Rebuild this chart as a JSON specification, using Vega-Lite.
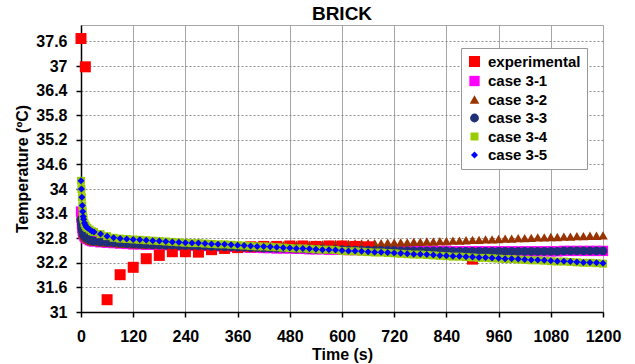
{
  "$schema": "https://vega.github.io/schema/vega-lite/v6.json",
  "width": 522,
  "height": 287,
  "autosize": "none",
  "padding": {"left": 81, "top": 25, "right": 32, "bottom": 52},
  "background": "white",
  "title": {"text": "BRICK", "fontSize": 19, "fontWeight": "bold", "font": "Liberation Sans", "color": "#000", "anchor": "middle", "offset": 1},
  "config": {
    "view": {"stroke": "#a6a6a6"},
    "axis": {"labelFont": "Liberation Sans", "labelFontSize": 16, "labelFontWeight": "bold", "labelColor": "#000", "titleFont": "Liberation Sans", "titleFontSize": 16, "titleFontWeight": "bold", "titleColor": "#000", "domainColor": "#000", "domainWidth": 1.5, "tickColor": "#000", "tickSize": 5, "tickWidth": 1.5, "gridOpacity": 1, "grid": true, "labelOverlap": false, "labelFlush": false},
    "axisX": {"labelPadding": 11, "titlePadding": 2, "labelAngle": 0, "gridColor": "#a6a6a6", "gridWidth": 1},
    "axisY": {"labelPadding": 9, "titlePadding": 5, "gridDash": [2, 2], "gridColor": "#8c8c8c", "gridWidth": 1},
    "legend": {"padding": 6, "fillColor": "#ffffff", "strokeColor": "#999999", "labelFont": "Liberation Sans", "labelFontSize": 15, "labelFontWeight": "bold", "labelColor": "#000", "symbolSize": 64, "rowPadding": 2.5, "labelOffset": 6, "symbolOpacity": 1}
  },
  "datasets": {
    "exp": [
      {"s": "experimental", "t": 0, "T": 37.67},
      {"s": "experimental", "t": 10, "T": 36.98},
      {"s": "experimental", "t": 60, "T": 31.3},
      {"s": "experimental", "t": 90, "T": 31.91},
      {"s": "experimental", "t": 120, "T": 32.09},
      {"s": "experimental", "t": 150, "T": 32.3},
      {"s": "experimental", "t": 180, "T": 32.38},
      {"s": "experimental", "t": 210, "T": 32.47},
      {"s": "experimental", "t": 240, "T": 32.47},
      {"s": "experimental", "t": 270, "T": 32.46},
      {"s": "experimental", "t": 300, "T": 32.52},
      {"s": "experimental", "t": 330, "T": 32.55},
      {"s": "experimental", "t": 360, "T": 32.57},
      {"s": "experimental", "t": 390, "T": 32.59},
      {"s": "experimental", "t": 420, "T": 32.6},
      {"s": "experimental", "t": 450, "T": 32.6},
      {"s": "experimental", "t": 480, "T": 32.61},
      {"s": "experimental", "t": 510, "T": 32.61},
      {"s": "experimental", "t": 540, "T": 32.6},
      {"s": "experimental", "t": 570, "T": 32.61},
      {"s": "experimental", "t": 600, "T": 32.61},
      {"s": "experimental", "t": 630, "T": 32.6},
      {"s": "experimental", "t": 660, "T": 32.59},
      {"s": "experimental", "t": 900, "T": 32.29}
    ],
    "sim": [
      {"t": 0, "case 3-1": 33.45, "case 3-2": 33.35, "case 3-3": 33.25, "case 3-4": 34.2, "case 3-5": 34.2},
      {"t": 1, "case 3-1": 33.3, "case 3-2": 33.22, "case 3-3": 33.15, "case 3-4": 34.0, "case 3-5": 34.0},
      {"t": 2, "case 3-1": 33.15, "case 3-2": 33.1, "case 3-3": 33.07, "case 3-4": 33.8, "case 3-5": 33.8},
      {"t": 3, "case 3-1": 33.05, "case 3-2": 33.02, "case 3-3": 33.0, "case 3-4": 33.6, "case 3-5": 33.6},
      {"t": 4, "case 3-1": 32.98, "case 3-2": 32.96, "case 3-3": 32.95, "case 3-4": 33.45, "case 3-5": 33.45},
      {"t": 5, "case 3-1": 32.93, "case 3-2": 32.92, "case 3-3": 32.91, "case 3-4": 33.33, "case 3-5": 33.33},
      {"t": 6, "case 3-1": 32.9, "case 3-2": 32.89, "case 3-3": 32.88, "case 3-4": 33.26, "case 3-5": 33.26},
      {"t": 8, "case 3-1": 32.85, "case 3-2": 32.85, "case 3-3": 32.85, "case 3-4": 33.17, "case 3-5": 33.17},
      {"t": 10, "case 3-1": 32.82, "case 3-2": 32.82, "case 3-3": 32.83, "case 3-4": 33.12, "case 3-5": 33.12},
      {"t": 12, "case 3-1": 32.8, "case 3-2": 32.8, "case 3-3": 32.81, "case 3-4": 33.08, "case 3-5": 33.08},
      {"t": 15, "case 3-1": 32.78, "case 3-2": 32.78, "case 3-3": 32.79, "case 3-4": 33.05, "case 3-5": 33.05},
      {"t": 20, "case 3-1": 32.75, "case 3-2": 32.75, "case 3-3": 32.76, "case 3-4": 33.01, "case 3-5": 33.01},
      {"t": 25, "case 3-1": 32.73, "case 3-2": 32.73, "case 3-3": 32.74, "case 3-4": 32.97, "case 3-5": 32.97},
      {"t": 30, "case 3-1": 32.72, "case 3-2": 32.72, "case 3-3": 32.73, "case 3-4": 32.95, "case 3-5": 32.95},
      {"t": 45, "case 3-1": 32.7, "case 3-2": 32.7, "case 3-3": 32.71, "case 3-4": 32.9, "case 3-5": 32.9},
      {"t": 60, "case 3-1": 32.69, "case 3-2": 32.69, "case 3-3": 32.7, "case 3-4": 32.85, "case 3-5": 32.85},
      {"t": 75, "case 3-1": 32.68, "case 3-2": 32.68, "case 3-3": 32.69, "case 3-4": 32.81, "case 3-5": 32.81},
      {"t": 90, "case 3-1": 32.67, "case 3-2": 32.67, "case 3-3": 32.68, "case 3-4": 32.79, "case 3-5": 32.79},
      {"t": 105, "case 3-1": 32.66, "case 3-2": 32.66, "case 3-3": 32.67, "case 3-4": 32.78, "case 3-5": 32.78},
      {"t": 120, "case 3-1": 32.65, "case 3-2": 32.65, "case 3-3": 32.66, "case 3-4": 32.77, "case 3-5": 32.77},
      {"t": 135, "case 3-1": 32.65, "case 3-2": 32.65, "case 3-3": 32.65, "case 3-4": 32.76, "case 3-5": 32.76},
      {"t": 150, "case 3-1": 32.64, "case 3-2": 32.64, "case 3-3": 32.65, "case 3-4": 32.75, "case 3-5": 32.75},
      {"t": 165, "case 3-1": 32.64, "case 3-2": 32.64, "case 3-3": 32.64, "case 3-4": 32.74, "case 3-5": 32.74},
      {"t": 180, "case 3-1": 32.63, "case 3-2": 32.63, "case 3-3": 32.64, "case 3-4": 32.73, "case 3-5": 32.73},
      {"t": 195, "case 3-1": 32.63, "case 3-2": 32.63, "case 3-3": 32.63, "case 3-4": 32.72, "case 3-5": 32.72},
      {"t": 210, "case 3-1": 32.63, "case 3-2": 32.62, "case 3-3": 32.63, "case 3-4": 32.71, "case 3-5": 32.71},
      {"t": 225, "case 3-1": 32.62, "case 3-2": 32.62, "case 3-3": 32.62, "case 3-4": 32.7, "case 3-5": 32.7},
      {"t": 240, "case 3-1": 32.62, "case 3-2": 32.61, "case 3-3": 32.62, "case 3-4": 32.69, "case 3-5": 32.69},
      {"t": 255, "case 3-1": 32.62, "case 3-2": 32.61, "case 3-3": 32.62, "case 3-4": 32.68, "case 3-5": 32.68},
      {"t": 270, "case 3-1": 32.61, "case 3-2": 32.61, "case 3-3": 32.61, "case 3-4": 32.68, "case 3-5": 32.68},
      {"t": 285, "case 3-1": 32.61, "case 3-2": 32.61, "case 3-3": 32.61, "case 3-4": 32.67, "case 3-5": 32.67},
      {"t": 300, "case 3-1": 32.6, "case 3-2": 32.61, "case 3-3": 32.6, "case 3-4": 32.66, "case 3-5": 32.66},
      {"t": 315, "case 3-1": 32.6, "case 3-2": 32.61, "case 3-3": 32.6, "case 3-4": 32.65, "case 3-5": 32.65},
      {"t": 330, "case 3-1": 32.59, "case 3-2": 32.61, "case 3-3": 32.59, "case 3-4": 32.65, "case 3-5": 32.65},
      {"t": 345, "case 3-1": 32.59, "case 3-2": 32.61, "case 3-3": 32.59, "case 3-4": 32.64, "case 3-5": 32.64},
      {"t": 360, "case 3-1": 32.58, "case 3-2": 32.61, "case 3-3": 32.58, "case 3-4": 32.63, "case 3-5": 32.63},
      {"t": 375, "case 3-1": 32.58, "case 3-2": 32.61, "case 3-3": 32.58, "case 3-4": 32.62, "case 3-5": 32.62},
      {"t": 390, "case 3-1": 32.57, "case 3-2": 32.62, "case 3-3": 32.57, "case 3-4": 32.61, "case 3-5": 32.61},
      {"t": 405, "case 3-1": 32.57, "case 3-2": 32.62, "case 3-3": 32.57, "case 3-4": 32.6, "case 3-5": 32.6},
      {"t": 420, "case 3-1": 32.56, "case 3-2": 32.62, "case 3-3": 32.56, "case 3-4": 32.6, "case 3-5": 32.6},
      {"t": 435, "case 3-1": 32.56, "case 3-2": 32.62, "case 3-3": 32.56, "case 3-4": 32.59, "case 3-5": 32.59},
      {"t": 450, "case 3-1": 32.55, "case 3-2": 32.63, "case 3-3": 32.55, "case 3-4": 32.58, "case 3-5": 32.58},
      {"t": 465, "case 3-1": 32.55, "case 3-2": 32.63, "case 3-3": 32.55, "case 3-4": 32.57, "case 3-5": 32.57},
      {"t": 480, "case 3-1": 32.55, "case 3-2": 32.63, "case 3-3": 32.55, "case 3-4": 32.56, "case 3-5": 32.56},
      {"t": 495, "case 3-1": 32.54, "case 3-2": 32.64, "case 3-3": 32.54, "case 3-4": 32.55, "case 3-5": 32.55},
      {"t": 510, "case 3-1": 32.54, "case 3-2": 32.64, "case 3-3": 32.54, "case 3-4": 32.55, "case 3-5": 32.55},
      {"t": 525, "case 3-1": 32.53, "case 3-2": 32.64, "case 3-3": 32.53, "case 3-4": 32.54, "case 3-5": 32.54},
      {"t": 540, "case 3-1": 32.53, "case 3-2": 32.65, "case 3-3": 32.53, "case 3-4": 32.53, "case 3-5": 32.53},
      {"t": 555, "case 3-1": 32.53, "case 3-2": 32.65, "case 3-3": 32.53, "case 3-4": 32.52, "case 3-5": 32.52},
      {"t": 570, "case 3-1": 32.52, "case 3-2": 32.65, "case 3-3": 32.52, "case 3-4": 32.52, "case 3-5": 32.52},
      {"t": 585, "case 3-1": 32.52, "case 3-2": 32.66, "case 3-3": 32.52, "case 3-4": 32.51, "case 3-5": 32.51},
      {"t": 600, "case 3-1": 32.52, "case 3-2": 32.66, "case 3-3": 32.52, "case 3-4": 32.49, "case 3-5": 32.5},
      {"t": 615, "case 3-1": 32.51, "case 3-2": 32.66, "case 3-3": 32.51, "case 3-4": 32.48, "case 3-5": 32.49},
      {"t": 630, "case 3-1": 32.51, "case 3-2": 32.67, "case 3-3": 32.51, "case 3-4": 32.48, "case 3-5": 32.49},
      {"t": 645, "case 3-1": 32.51, "case 3-2": 32.67, "case 3-3": 32.51, "case 3-4": 32.47, "case 3-5": 32.48},
      {"t": 660, "case 3-1": 32.51, "case 3-2": 32.68, "case 3-3": 32.51, "case 3-4": 32.46, "case 3-5": 32.47},
      {"t": 675, "case 3-1": 32.5, "case 3-2": 32.68, "case 3-3": 32.5, "case 3-4": 32.45, "case 3-5": 32.46},
      {"t": 690, "case 3-1": 32.5, "case 3-2": 32.68, "case 3-3": 32.5, "case 3-4": 32.45, "case 3-5": 32.46},
      {"t": 705, "case 3-1": 32.5, "case 3-2": 32.69, "case 3-3": 32.5, "case 3-4": 32.44, "case 3-5": 32.45},
      {"t": 720, "case 3-1": 32.5, "case 3-2": 32.69, "case 3-3": 32.5, "case 3-4": 32.43, "case 3-5": 32.44},
      {"t": 735, "case 3-1": 32.49, "case 3-2": 32.7, "case 3-3": 32.49, "case 3-4": 32.42, "case 3-5": 32.43},
      {"t": 750, "case 3-1": 32.49, "case 3-2": 32.7, "case 3-3": 32.49, "case 3-4": 32.41, "case 3-5": 32.42},
      {"t": 765, "case 3-1": 32.49, "case 3-2": 32.71, "case 3-3": 32.49, "case 3-4": 32.4, "case 3-5": 32.41},
      {"t": 780, "case 3-1": 32.49, "case 3-2": 32.71, "case 3-3": 32.49, "case 3-4": 32.4, "case 3-5": 32.41},
      {"t": 795, "case 3-1": 32.49, "case 3-2": 32.72, "case 3-3": 32.49, "case 3-4": 32.39, "case 3-5": 32.4},
      {"t": 810, "case 3-1": 32.49, "case 3-2": 32.72, "case 3-3": 32.49, "case 3-4": 32.38, "case 3-5": 32.39},
      {"t": 825, "case 3-1": 32.49, "case 3-2": 32.73, "case 3-3": 32.49, "case 3-4": 32.37, "case 3-5": 32.38},
      {"t": 840, "case 3-1": 32.49, "case 3-2": 32.73, "case 3-3": 32.49, "case 3-4": 32.36, "case 3-5": 32.37},
      {"t": 855, "case 3-1": 32.48, "case 3-2": 32.74, "case 3-3": 32.48, "case 3-4": 32.35, "case 3-5": 32.36},
      {"t": 870, "case 3-1": 32.48, "case 3-2": 32.74, "case 3-3": 32.48, "case 3-4": 32.35, "case 3-5": 32.36},
      {"t": 885, "case 3-1": 32.48, "case 3-2": 32.75, "case 3-3": 32.48, "case 3-4": 32.34, "case 3-5": 32.35},
      {"t": 900, "case 3-1": 32.48, "case 3-2": 32.76, "case 3-3": 32.48, "case 3-4": 32.33, "case 3-5": 32.34},
      {"t": 915, "case 3-1": 32.48, "case 3-2": 32.76, "case 3-3": 32.48, "case 3-4": 32.32, "case 3-5": 32.33},
      {"t": 930, "case 3-1": 32.48, "case 3-2": 32.77, "case 3-3": 32.48, "case 3-4": 32.32, "case 3-5": 32.33},
      {"t": 945, "case 3-1": 32.48, "case 3-2": 32.77, "case 3-3": 32.48, "case 3-4": 32.31, "case 3-5": 32.32},
      {"t": 960, "case 3-1": 32.48, "case 3-2": 32.78, "case 3-3": 32.48, "case 3-4": 32.3, "case 3-5": 32.31},
      {"t": 975, "case 3-1": 32.48, "case 3-2": 32.79, "case 3-3": 32.48, "case 3-4": 32.29, "case 3-5": 32.3},
      {"t": 990, "case 3-1": 32.48, "case 3-2": 32.79, "case 3-3": 32.48, "case 3-4": 32.29, "case 3-5": 32.3},
      {"t": 1005, "case 3-1": 32.48, "case 3-2": 32.8, "case 3-3": 32.48, "case 3-4": 32.28, "case 3-5": 32.29},
      {"t": 1020, "case 3-1": 32.48, "case 3-2": 32.8, "case 3-3": 32.48, "case 3-4": 32.27, "case 3-5": 32.28},
      {"t": 1035, "case 3-1": 32.48, "case 3-2": 32.81, "case 3-3": 32.48, "case 3-4": 32.26, "case 3-5": 32.27},
      {"t": 1050, "case 3-1": 32.48, "case 3-2": 32.82, "case 3-3": 32.48, "case 3-4": 32.26, "case 3-5": 32.27},
      {"t": 1065, "case 3-1": 32.48, "case 3-2": 32.82, "case 3-3": 32.48, "case 3-4": 32.25, "case 3-5": 32.26},
      {"t": 1080, "case 3-1": 32.48, "case 3-2": 32.83, "case 3-3": 32.48, "case 3-4": 32.24, "case 3-5": 32.25},
      {"t": 1095, "case 3-1": 32.48, "case 3-2": 32.83, "case 3-3": 32.48, "case 3-4": 32.23, "case 3-5": 32.24},
      {"t": 1110, "case 3-1": 32.49, "case 3-2": 32.84, "case 3-3": 32.49, "case 3-4": 32.23, "case 3-5": 32.24},
      {"t": 1125, "case 3-1": 32.49, "case 3-2": 32.84, "case 3-3": 32.49, "case 3-4": 32.22, "case 3-5": 32.23},
      {"t": 1140, "case 3-1": 32.49, "case 3-2": 32.85, "case 3-3": 32.49, "case 3-4": 32.21, "case 3-5": 32.22},
      {"t": 1155, "case 3-1": 32.49, "case 3-2": 32.85, "case 3-3": 32.49, "case 3-4": 32.2, "case 3-5": 32.21},
      {"t": 1170, "case 3-1": 32.49, "case 3-2": 32.86, "case 3-3": 32.49, "case 3-4": 32.2, "case 3-5": 32.21},
      {"t": 1185, "case 3-1": 32.49, "case 3-2": 32.86, "case 3-3": 32.49, "case 3-4": 32.19, "case 3-5": 32.2},
      {"t": 1200, "case 3-1": 32.49, "case 3-2": 32.87, "case 3-3": 32.49, "case 3-4": 32.18, "case 3-5": 32.19}
    ]
  },
  "encoding": {
    "x": {"field": "t", "type": "quantitative", "scale": {"domain": [0, 1200], "nice": false}, "axis": {"values": [0, 120, 240, 360, 480, 600, 720, 840, 960, 1080, 1200], "format": "d", "title": "Time (s)"}},
    "y": {"field": "T", "type": "quantitative", "scale": {"domain": [31, 38], "nice": false, "zero": false}, "axis": {"values": [31, 31.6, 32.2, 32.8, 33.4, 34, 34.6, 35.2, 35.8, 36.4, 37, 37.6], "format": "~g", "title": "Temperature (ºC)"}},
    "color": {"field": "s", "type": "nominal", "scale": {"domain": ["experimental", "case 3-1", "case 3-2", "case 3-3", "case 3-4", "case 3-5"], "range": ["#ff0000", "#ff00ff", "#993300", "#1f2f78", "#99cc00", "#0000ff"]}, "legend": {"title": null, "orient": "none", "legendX": 380, "legendY": 23}},
    "shape": {"field": "s", "type": "nominal", "scale": {"domain": ["experimental", "case 3-1", "case 3-2", "case 3-3", "case 3-4", "case 3-5"], "range": ["square", "square", "triangle-up", "circle", "square", "diamond"]}, "legend": {"title": null, "orient": "none", "legendX": 380, "legendY": 23}},
    "size": {"field": "s", "type": "nominal", "scale": {"domain": ["experimental", "case 3-1", "case 3-2", "case 3-3", "case 3-4", "case 3-5"], "range": [121, 49, 32, 30, 81, 42]}, "legend": null},
    "order": {"field": "s"}
  },
  "layer": [
    {
      "data": {"name": "sim"},
      "transform": [{"fold": ["case 3-1", "case 3-2"], "as": ["s", "T"]}],
      "mark": {"type": "point", "filled": true, "opacity": 1}
    },
    {
      "data": {"name": "exp"},
      "mark": {"type": "point", "filled": true, "opacity": 1}
    },
    {
      "data": {"name": "sim"},
      "transform": [{"fold": ["case 3-3", "case 3-4", "case 3-5"], "as": ["s", "T"]}],
      "mark": {"type": "point", "filled": true, "opacity": 1}
    }
  ]
}
